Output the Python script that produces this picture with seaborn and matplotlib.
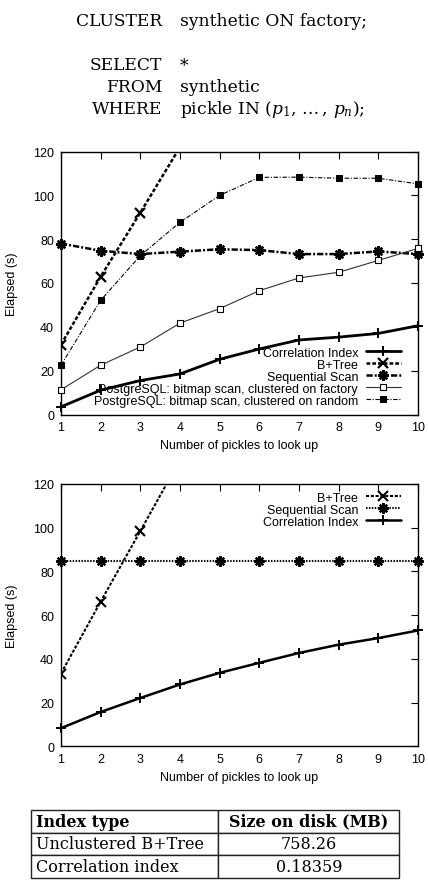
import numpy as np
import pandas as pd
import matplotlib
matplotlib.use("Agg")
import matplotlib.pyplot as plt
import seaborn as sns

# ---- data ----
pickles = [1, 2, 3, 4, 5, 6, 7, 8, 9, 10]

# clustered on factory (top plot)
top_corr = [3.5, 11.1, 15.5, 18.5, 25.2, 29.9, 34.0, 35.3, 37.0, 40.5]
top_btree_x = [1, 2, 3, 4]
top_btree = [31.9, 62.9, 92.1, 122.0]
top_seq = [78.0, 74.7, 73.2, 74.3, 75.4, 75.0, 73.2, 73.2, 74.4, 73.2]
top_pg_factory = [11.3, 22.5, 30.8, 41.7, 48.3, 56.5, 62.3, 64.9, 70.3, 75.8]
top_pg_random = [22.5, 52.1, 72.5, 87.7, 100.0, 108.2, 108.3, 107.8, 107.8, 105.2]

# bottom plot
bot_btree_x = [1, 2, 3, 4]
bot_btree = [33.3, 66.2, 98.5, 131.0]
bot_seq = [84.7] * 10
bot_corr = [8.3, 15.7, 22.1, 28.3, 33.6, 38.2, 42.7, 46.5, 49.5, 53.0]

sql_keywords = ["CLUSTER", "SELECT", "FROM", "WHERE"]
sql_args = ["synthetic ON factory;", "*", "synthetic", r"pickle IN $(p_1,\,\ldots\,,\,p_n)$;"]
sql_rows_y = [22, 66, 88, 110]

table_cols = ["Index type", "Size on disk (MB)"]
table_rows = [["Unclustered B+Tree", "758.26"], ["Correlation index", "0.18359"]]

sns.set_theme(style="white")
plt.rcParams["font.family"] = ["Liberation Sans", "DejaVu Sans"]
plt.rcParams["mathtext.fontset"] = "dejavuserif"
plt.rcParams["axes.edgecolor"] = "black"
plt.rcParams["axes.linewidth"] = 1.0
plt.rcParams["text.color"] = "black"
plt.rcParams["axes.labelcolor"] = "black"
plt.rcParams["xtick.color"] = "black"
plt.rcParams["ytick.color"] = "black"

FS = 9
W, H = 428, 895
fig = plt.figure(figsize=(W / 100, H / 100), dpi=100)

# SQL snippet
for kw, arg, yy in zip(sql_keywords, sql_args, sql_rows_y):
    fig.text(162 / W, 1 - yy / H, kw, ha="right", va="center", fontsize=12.3,
             family=["DejaVu Serif"])
    fig.text(180 / W, 1 - yy / H, arg, ha="left", va="center", fontsize=12.3,
             family=["DejaVu Serif"])

asterisk = (8, 2, 0)


def style_axes(ax):
    ax.set_xlim(1, 10)
    ax.set_ylim(0, 120)
    ax.set_xticks(pickles)
    ax.set_yticks(range(0, 121, 20))
    ax.tick_params(direction="in", top=True, right=True, length=5, width=0.8,
                   labelsize=FS, colors="black", pad=5)
    ax.set_xlabel("Number of pickles to look up", fontsize=FS, labelpad=4)
    ax.set_ylabel("Elapsed (s)", fontsize=FS, labelpad=11)
    for s in ax.spines.values():
        s.set_visible(True)
        s.set_zorder(0.5)


# ---- top plot ----
ax1 = fig.add_axes([61 / W, 1 - 415.5 / H, 357 / W, 263 / H])
sns.lineplot(x=pickles, y=top_corr, ax=ax1, color="black", lw=2.0, marker="+",
             markersize=7, mec="black", mew=1.4, clip_on=False, label="Correlation Index")
sns.lineplot(x=top_btree_x, y=top_btree, ax=ax1, color="black", lw=1.8, ls=(0, (1.5, 0.8)),
             marker="x", markersize=7, mec="black", mew=1.6, label="B+Tree")
sns.lineplot(x=pickles, y=top_seq, ax=ax1, color="black", lw=1.8, ls=(0, (2.5, 0.8, 0.8, 0.8)),
             marker=asterisk, markersize=7.5, mec="black", mew=1.7, clip_on=False,
             label="Sequential Scan")
sns.lineplot(x=pickles, y=top_pg_factory, ax=ax1, color="#333333", lw=0.8, marker="s",
             markersize=4, mfc="white", mec="black", mew=0.8, clip_on=False,
             label="PostgreSQL: bitmap scan, clustered on factory")
sns.lineplot(x=pickles, y=top_pg_random, ax=ax1, color="black", lw=0.8, ls=(0, (4, 1.5, 1, 1.5)),
             marker="s", markersize=4, mfc="black", mec="black", clip_on=False,
             label="PostgreSQL: bitmap scan, clustered on random")
style_axes(ax1)
ax1.legend(loc="lower right", bbox_to_anchor=(0.965, 0.01), frameon=False, fontsize=FS,
           markerfirst=False, handlelength=2.8, handletextpad=0.6, labelspacing=0.0,
           borderpad=0.2, borderaxespad=0.2)

# ---- bottom plot ----
ax2 = fig.add_axes([61 / W, 1 - 747.3 / H, 357 / W, 262.3 / H])
sns.lineplot(x=bot_btree_x, y=bot_btree, ax=ax2, color="black", lw=1.5, ls=(0, (1.5, 0.8)),
             marker="x", markersize=7, mec="black", mew=1.5, label="B+Tree")
sns.lineplot(x=pickles, y=bot_seq, ax=ax2, color="black", lw=1.5, ls=(0, (0.7, 0.7)),
             marker=asterisk, markersize=7.5, mec="black", mew=1.6, clip_on=False,
             label="Sequential Scan")
sns.lineplot(x=pickles, y=bot_corr, ax=ax2, color="black", lw=1.8, marker="+",
             markersize=7, mec="black", mew=1.4, clip_on=False, label="Correlation Index")
style_axes(ax2)
ax2.legend(loc="upper right", bbox_to_anchor=(0.965, 0.99), frameon=False, fontsize=FS,
           markerfirst=False, handlelength=2.8, handletextpad=0.6, labelspacing=0.0,
           borderpad=0.2, borderaxespad=0.2)

# ---- size table ----
axt = fig.add_axes([30.7 / W, 1 - 879.3 / H, 368.6 / W, 68.6 / H])
axt.axis("off")
tab = axt.table(cellText=table_rows, colLabels=table_cols, bbox=[0, 0, 1, 1],
                colWidths=[0.509, 0.491])
tab.auto_set_font_size(False)
for (r, c), cell in tab.get_celld().items():
    cell.set_linewidth(1.0)
    cell.set_edgecolor("#222222")
    txt = cell.get_text()
    txt.set_fontsize(11.5)
    txt.set_family(["DejaVu Serif"])
    txt.set_color("black")
    if r == 0:
        txt.set_fontweight("bold")
    if c == 0:
        cell.set_text_props(ha="left")
        cell.PAD = 0.03
    else:
        cell.set_text_props(ha="center")

fig.savefig("out.png", dpi=100)
